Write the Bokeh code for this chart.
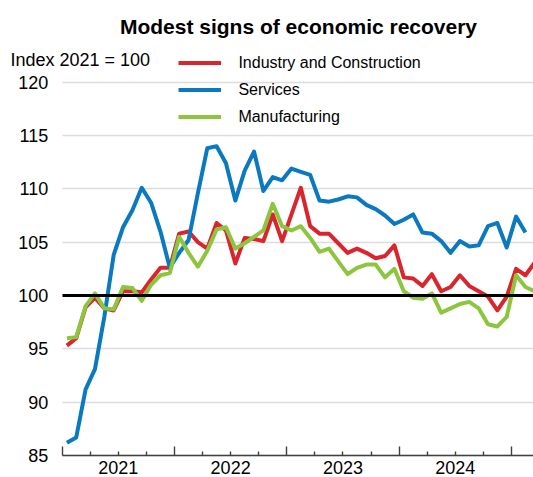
import numpy as np
from bokeh.plotting import figure
from bokeh.models import (Range1d, FixedTicker, LinearAxis, Grid, Label,
                          Legend, LegendItem)
from bokeh.embed import file_html
from bokeh.resources import INLINE

# ---------------- data ----------------
title_text = "Modest signs of economic recovery"
unit_text = "Index 2021 = 100"
series_names = ["Industry and Construction", "Services", "Manufacturing"]
year_labels = ["2021", "2022", "2023", "2024"]
y_ticks = [85, 90, 95, 100, 105, 110, 115, 120]

# monthly values, January 2021 onwards
industry = [95.3, 96.0, 98.9, 99.8, 98.8, 98.6, 100.4, 100.4, 100.3, 101.5,
            102.6, 102.6, 105.8, 106.0, 105.0, 104.4, 106.8, 106.1, 103.0, 105.4,
            105.3, 105.1, 107.6, 105.1, 107.6, 110.1, 106.5, 105.8, 105.8, 104.9,
            104.0, 104.4, 104.0, 103.5, 103.7, 104.7, 101.7, 101.6, 100.9, 102.0,
            100.4, 100.8, 101.9, 100.9, 100.4, 99.9, 98.6, 99.9, 102.5, 101.9,
            103.1]
services = [86.2, 86.7, 91.2, 93.1, 98.0, 103.8, 106.4, 108.0, 110.1, 108.7,
            106.0, 102.6, 104.0, 105.2, 109.6, 113.8, 114.0, 112.4, 108.9, 111.7,
            113.5, 109.8, 111.1, 110.8, 111.9, 111.6, 111.3, 108.9, 108.8, 109.0,
            109.3, 109.2, 108.5, 108.1, 107.5, 106.7, 107.1, 107.6, 105.9, 105.8,
            105.1, 104.0, 105.1, 104.6, 104.7, 106.5, 106.8, 104.5, 107.4, 105.9]
manufacturing = [96.0, 96.1, 99.0, 100.2, 98.8, 98.7, 100.8, 100.7, 99.5, 101.0,
                 101.9, 102.1, 105.5, 104.0, 102.7, 104.2, 106.2, 106.4, 104.4, 104.9,
                 105.5, 106.1, 108.6, 106.5, 106.1, 106.5, 105.4, 104.1, 104.4, 103.2,
                 102.0, 102.6, 102.9, 102.9, 101.7, 102.5, 100.4, 99.8, 99.7, 100.2,
                 98.4, 98.8, 99.2, 99.4, 98.8, 97.3, 97.1, 98.0, 101.9, 100.8,
                 100.4]

colors = ["#d9262e", "#0a79bf", "#8cc63f"]
FONT = "Liberation Sans"

W, H = 533, 477
# frame covers the whole canvas; ranges chosen so the plot area sits where it should
X_START, X_END = -6.593, 50.363      # months since Jan 2021
Y_START, Y_END = 82.94, 127.656
BASE = y_ticks[0]


def month_centres(vals):
    # month index (months since Jan 2021) at the middle of each month
    return np.arange(len(vals)) + 0.5


p = figure(width=W, height=H, output_backend="svg", toolbar_location=None,
           x_range=Range1d(X_START, X_END), y_range=Range1d(Y_START, Y_END),
           min_border=0, min_border_left=0, min_border_right=0,
           min_border_top=0, min_border_bottom=0, outline_line_color=None)
p.background_fill_color = "white"
p.border_fill_color = "white"

# horizontal grid, starting at the plot's left edge
p.xgrid.visible = False
p.ygrid.ticker = FixedTicker(ticks=y_ticks)
p.ygrid.grid_line_color = "#dcdcdc"
p.ygrid.grid_line_width = 1.3
p.ygrid.cross_bounds = (0, X_END)

# lines
renderers = []
for vals, col in zip([industry, services, manufacturing], colors):
    r = p.line(month_centres(vals), vals, line_color=col, line_width=4,
               line_join="round")
    renderers.append(r)

# 100 reference line
ref_line = Grid(dimension=1, ticker=FixedTicker(ticks=[100]),
                cross_bounds=(0, X_END), grid_line_color="black",
                grid_line_width=2.8, level="overlay")
p.add_layout(ref_line)

# y axis (drawn at the plot's left edge)
ya = p.yaxis[0]
ya.fixed_location = 0
ya.ticker = FixedTicker(ticks=y_ticks)
ya.axis_line_color = None
ya.major_tick_line_color = None
ya.minor_tick_line_color = None
ya.major_tick_in = 0
ya.major_tick_out = 0
ya.major_label_standoff = 14
ya.major_label_text_font = FONT
ya.major_label_text_font_size = "18px"
ya.major_label_text_color = "black"

# x axis labels centred on each year
label_pos = [12 * k + 6 for k in range(len(year_labels))]
xa = p.xaxis[0]
xa.fixed_location = BASE
xa.ticker = FixedTicker(ticks=label_pos)
xa.major_label_overrides = {pos: lab for pos, lab in zip(label_pos, year_labels)}
xa.axis_line_color = None
xa.major_tick_line_color = None
xa.minor_tick_line_color = None
xa.major_tick_in = 0
xa.major_tick_out = 0
xa.major_label_standoff = 5
xa.major_label_text_font = FONT
xa.major_label_text_font_size = "18px"
xa.major_label_text_color = "black"

# x axis line with long year ticks and short quarter ticks
n_years = len(year_labels) + 1
year_bounds = [12 * k for k in range(n_years)]
quarters = [q for q in range(3, 12 * n_years, 3) if q % 12 != 0 and q < X_END]
xt = LinearAxis(fixed_location=BASE, bounds=(0, X_END),
                ticker=FixedTicker(ticks=year_bounds, minor_ticks=quarters),
                axis_line_color="#404040", axis_line_width=1.4,
                major_tick_line_color="#404040", major_tick_line_width=1.4,
                minor_tick_line_color="#404040", minor_tick_line_width=1.4,
                major_tick_in=9, major_tick_out=0, minor_tick_in=4,
                minor_tick_out=0, major_label_text_color=None)
p.add_layout(xt, "below")

# legend
legend = Legend(items=[LegendItem(label=n, renderers=[r])
                       for n, r in zip(series_names, renderers)],
                location=(178.4, 346.6), orientation="vertical",
                padding=0, margin=0, spacing=0, glyph_width=43, glyph_height=27,
                label_height=27, label_standoff=17, border_line_color=None,
                background_fill_alpha=0, label_text_font=FONT,
                label_text_font_size="16px", label_text_color="black")
p.add_layout(legend)

# title and unit label
p.add_layout(Label(x=298, y=451.5, x_units="screen", y_units="screen",
                   text=title_text, text_align="center", text_baseline="middle",
                   text_font=FONT, text_font_size="21px", text_font_style="bold",
                   text_color="black"))
p.add_layout(Label(x=10, y=417.5, x_units="screen", y_units="screen",
                   text=unit_text, text_align="left", text_baseline="middle",
                   text_font=FONT, text_font_size="18px", text_color="black"))

open("out.html", "w").write(file_html(p, INLINE))
